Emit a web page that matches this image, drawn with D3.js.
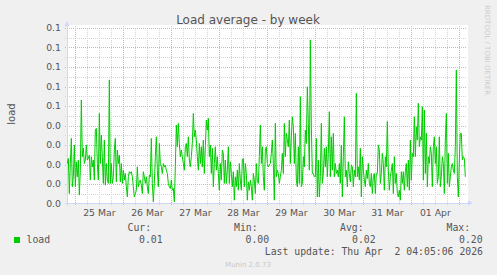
<!DOCTYPE html>
<html>
<head>
<meta charset="utf-8">
<script src="https://cdnjs.cloudflare.com/ajax/libs/d3/7.8.5/d3.min.js"></script>
<style>
  body { margin: 0; background: #f0f0f0; }
  svg { display: block; }
  text { font-family: "DejaVu Sans", sans-serif; fill: #555; }
  .mono { font-family: "DejaVu Sans Mono", monospace; }
</style>
</head>
<body>
<div class="chart"></div>
<script>
// load average, one sample every 30 minutes
var firstSample = Date.UTC(2026, 2, 24, 20, 0);
var stepMinutes = 30;
var viewStart = Date.UTC(2026, 2, 24, 20, 5);
var viewEnd = Date.UTC(2026, 3, 2, 4, 5);

var load = [
  0.0205, 0.0231, 0.0051, 0.0205, 0.0334, 0.0086, 0.0137, 0.0300, 0.0086, 0.0214,
  0.0137, 0.0223, 0.0043, 0.0171, 0.0531, 0.0240, 0.0283, 0.0205, 0.0223, 0.0300,
  0.0223, 0.0231, 0.0248, 0.0120, 0.0240, 0.0188, 0.0223, 0.0120, 0.0377, 0.0385,
  0.0205, 0.0120, 0.0462, 0.0205, 0.0351, 0.0240, 0.0103, 0.0325, 0.0094, 0.0205,
  0.0120, 0.0103, 0.0634, 0.0103, 0.0205, 0.0103, 0.0137, 0.0274, 0.0334, 0.0111,
  0.0274, 0.0205, 0.0248, 0.0111, 0.0205, 0.0103, 0.0171, 0.0120, 0.0154, 0.0086,
  0.0034, 0.0137, 0.0163, 0.0154, 0.0163, 0.0137, 0.0086,
  0.0034, 0.0051, 0.0068, 0.0188, 0.0086, 0.0111, 0.0120, 0.0094, 0.0051, 0.0163,
  0.0137, 0.0103, 0.0137, 0.0086, 0.0051, 0.0146, 0.0137, 0.0334, 0.0103, 0.0009,
  0.0103, 0.0240, 0.0342, 0.0171, 0.0086, 0.0308, 0.0205, 0.0188, 0.0154, 0.0205,
  0.0188, 0.0197, 0.0171, 0.0154, 0.0103, 0.0086, 0.0077, 0.0120, 0.0068, 0.0077,
  0.0009, 0.0188, 0.0402, 0.0291, 0.0411, 0.0308, 0.0240, 0.0274, 0.0240, 0.0205,
  0.0171, 0.0291, 0.0308, 0.0240, 0.0342, 0.0223, 0.0188, 0.0240, 0.0308, 0.0462,
  0.0342, 0.0377, 0.0325, 0.0240, 0.0171, 0.0308, 0.0205, 0.0291,
  0.0188, 0.0325, 0.0154, 0.0291, 0.0428, 0.0377, 0.0437, 0.0240, 0.0300, 0.0154,
  0.0283, 0.0086, 0.0205, 0.0291, 0.0171, 0.0240, 0.0154, 0.0068, 0.0205, 0.0120,
  0.0274, 0.0257, 0.0103, 0.0223, 0.0103, 0.0171, 0.0291, 0.0103, 0.0214, 0.0154,
  0.0086, 0.0163, 0.0017, 0.0137, 0.0086, 0.0171, 0.0068, 0.0205, 0.0120, 0.0068,
  0.0223, 0.0231, 0.0086, 0.0205, 0.0154, 0.0017, 0.0111, 0.0068, 0.0120, 0.0086,
  0.0017, 0.0154, 0.0120, 0.0051, 0.0205, 0.0111, 0.0103, 0.0240, 0.0402, 0.0205,
  0.0291, 0.0137, 0.0068, 0.0274, 0.0291, 0.0205, 0.0188, 0.0197,
  0.0205, 0.0257, 0.0325, 0.0205, 0.0017, 0.0411, 0.0137, 0.0171, 0.0154, 0.0103,
  0.0137, 0.0171, 0.0257, 0.0154, 0.0411, 0.0240, 0.0360, 0.0325, 0.0291, 0.0428,
  0.0205, 0.0342, 0.0445, 0.0394, 0.0205, 0.0360, 0.0120, 0.0086, 0.0291, 0.0103,
  0.0548, 0.0086, 0.0103, 0.0240, 0.0188, 0.0377, 0.0308, 0.0599, 0.0411, 0.0171,
  0.0839, 0.0394, 0.0154, 0.0154, 0.0137, 0.0137, 0.0334, 0.0034, 0.0223, 0.0034,
  0.0137, 0.0411, 0.0103, 0.0154, 0.0283, 0.0188, 0.0291, 0.0137, 0.0257, 0.0471,
  0.0137, 0.0342, 0.0171, 0.0360, 0.0137, 0.0205, 0.0154, 0.0171,
  0.0137, 0.0205, 0.0103, 0.0300, 0.0034, 0.0240, 0.0445, 0.0137, 0.0171, 0.0086,
  0.0214, 0.0154, 0.0111, 0.0197, 0.0188, 0.0086, 0.0171, 0.0137, 0.0565, 0.0137,
  0.0188, 0.0120, 0.0283, 0.0034, 0.0240, 0.0171, 0.0120, 0.0086, 0.0171, 0.0128,
  0.0205, 0.0103, 0.0086, 0.0154, 0.0051, 0.0137, 0.0154, 0.0051, 0.0154, 0.0154,
  0.0300, 0.0274, 0.0103, 0.0154, 0.0257, 0.0205, 0.0068, 0.0240, 0.0188, 0.0420,
  0.0171, 0.0068, 0.0137, 0.0171, 0.0205, 0.0051, 0.0240, 0.0103, 0.0154, 0.0051,
  0.0034, 0.0068, 0.0017, 0.0163, 0.0103, 0.0163, 0.0068, 0.0163,
  0.0205, 0.0086, 0.0223, 0.0068, 0.0325, 0.0120, 0.0257, 0.0240, 0.0445, 0.0240,
  0.0394, 0.0325, 0.0514, 0.0291, 0.0342, 0.0325, 0.0497, 0.0120, 0.0479, 0.0154,
  0.0360, 0.0086, 0.0240, 0.0205, 0.0291, 0.0257, 0.0086, 0.0291, 0.0342, 0.0205,
  0.0291, 0.0103, 0.0137, 0.0342, 0.0086, 0.0137, 0.0240, 0.0205, 0.0051, 0.0325,
  0.0462, 0.0103, 0.0257, 0.0086, 0.0137, 0.0188, 0.0205, 0.0171, 0.0154, 0.0291,
  0.0685, 0.0137, 0.0034, 0.0223, 0.0360, 0.0360, 0.0223, 0.0240, 0.0231, 0.0137
];

var yTicks = [0, 0.01, 0.02, 0.03, 0.04, 0.05, 0.06, 0.07, 0.08, 0.09];
var yMinorTicks = [0.005, 0.015, 0.025, 0.035, 0.045, 0.055, 0.065, 0.075, 0.085];
var dayTicks = d3.range(0, 9).map(d => Date.UTC(2026, 2, 25 + d));
var labelDays = d3.range(0, 8).map(d => Date.UTC(2026, 2, 25 + d, 12));

var legendHeads = ["Cur:", "Min:", "Avg:", "Max:"];
var legendValues = ["0.01", "0.00", "0.02", "0.20"];
var seriesName = "load";
var lastUpdate = "Last update: Thu Apr  2 04:05:06 2026";

var svgWidth = 497, svgHeight = 275;
var plot = { left: 67, right: 467, top: 28, bottom: 203.5 };

var svg = d3.select(".chart").append("svg")
    .attr("width", svgWidth)
    .attr("height", svgHeight);

svg.append("rect").attr("width", svgWidth).attr("height", svgHeight).attr("fill", "#f0f0f0");
svg.append("rect")
    .attr("x", plot.left).attr("y", plot.top - 3)
    .attr("width", plot.right - plot.left + 1).attr("height", plot.bottom - plot.top + 3)
    .attr("fill", "#ffffff");

var x = d3.scaleUtc().domain([viewStart, viewEnd]).range([plot.left + 0.5, plot.right + 0.5]);
var y = d3.scaleLinear().domain([0, 0.09]).range([plot.bottom, plot.top]);

var crisp = v => Math.round(v) + 0.5;

// minor grid, 6 hours / 0.005
var minorTimes = d3.utcHour.every(6).range(new Date(viewStart), new Date(viewEnd))
    .filter(d => d.getUTCHours() !== 0);
var grid = svg.append("g").attr("stroke-dasharray", "1,1").attr("shape-rendering", "crispEdges");
grid.selectAll(".vmin").data(minorTimes).enter().append("line")
    .attr("x1", d => crisp(x(d))).attr("x2", d => crisp(x(d)))
    .attr("y1", plot.top).attr("y2", plot.bottom + 2.5)
    .attr("stroke", "#d4d4d4");
grid.selectAll(".hmin").data(yMinorTicks).enter().append("line")
    .attr("x1", plot.left - 2).attr("x2", plot.right)
    .attr("y1", d => crisp(y(d))).attr("y2", d => crisp(y(d)))
    .attr("stroke", "#d4d4d4");
grid.selectAll(".vmaj").data(dayTicks).enter().append("line")
    .attr("x1", d => crisp(x(d))).attr("x2", d => crisp(x(d)))
    .attr("y1", plot.top - 2).attr("y2", plot.bottom + 2.5)
    .attr("stroke", "#eea8a8");
grid.selectAll(".hmaj").data(yTicks.slice(1)).enter().append("line")
    .attr("x1", plot.left - 2).attr("x2", plot.right)
    .attr("y1", d => crisp(y(d))).attr("y2", d => crisp(y(d)))
    .attr("stroke", "#eea8a8");

// axes
var axisColor = "#cfd6f8";
svg.append("line")
    .attr("x1", plot.left - 2).attr("x2", plot.right + 2)
    .attr("y1", crisp(plot.bottom - 0.5)).attr("y2", crisp(plot.bottom - 0.5))
    .attr("stroke", axisColor).attr("shape-rendering", "crispEdges");
svg.append("line")
    .attr("x1", crisp(plot.left - 0.5)).attr("x2", crisp(plot.left - 0.5))
    .attr("y1", plot.bottom + 2).attr("y2", plot.top - 3)
    .attr("stroke", axisColor).attr("shape-rendering", "crispEdges");
svg.append("path")
    .attr("d", `M${plot.left - 2.5},26 L${plot.left + 2.5},26 L${plot.left},21 Z`)
    .attr("fill", axisColor);
svg.append("path")
    .attr("d", `M468,${plot.bottom - 3} L468,${plot.bottom + 2} L473,${plot.bottom - 0.5} Z`)
    .attr("fill", axisColor);

// tick labels
var fmtY = d3.format(".1f");
svg.selectAll(".ylab").data(yTicks).enter().append("text")
    .attr("x", 61).attr("y", d => y(d) + 3.4)
    .attr("text-anchor", "end").attr("font-size", "9.3px")
    .text(d => fmtY(d));

var fmtX = d3.utcFormat("%d %b");
svg.selectAll(".xlab").data(labelDays).enter().append("text")
    .attr("x", d => x(d)).attr("y", 216)
    .attr("text-anchor", "middle").attr("font-size", "9.3px")
    .text(d => fmtX(new Date(d)));

// series
var line = d3.line()
    .x((d, i) => x(firstSample + i * stepMinutes * 60000))
    .y(d => y(d));
svg.append("path")
    .datum(load)
    .attr("fill", "none")
    .attr("stroke", "#00cc00")
    .attr("stroke-width", 1)
    .attr("d", line);

// titles
svg.append("text")
    .attr("x", 248).attr("y", 24)
    .attr("text-anchor", "middle").attr("font-size", "12px")
    .text("Load average - by week");

svg.append("text")
    .attr("transform", "translate(14.5,114) rotate(-90)")
    .attr("text-anchor", "middle").attr("font-size", "10px")
    .text(seriesName);

svg.append("text")
    .attr("transform", "translate(485,5) rotate(90)")
    .attr("font-size", "7px").style("fill", "#cccccc")
    .text("RRDTOOL / TOBI OETIKER");

// legend
var headX = [127.5, 234, 340, 446.5];
var valueX = [139, 245.5, 352, 459];
svg.selectAll(".lhead").data(legendHeads).enter().append("text")
    .attr("class", "mono").attr("x", (d, i) => headX[i]).attr("y", 231)
    .attr("font-size", "9.8px").text(d => d);
svg.selectAll(".lval").data(legendValues).enter().append("text")
    .attr("class", "mono").attr("x", (d, i) => valueX[i]).attr("y", 243)
    .attr("font-size", "9.8px").text(d => d);

svg.append("rect")
    .attr("x", 14).attr("y", 237).attr("width", 6).attr("height", 6)
    .attr("fill", "#00cc00");
svg.append("text")
    .attr("class", "mono").attr("x", 26.5).attr("y", 243)
    .attr("font-size", "9.8px").text(seriesName);

svg.append("text")
    .attr("class", "mono").attr("x", 483).attr("y", 255)
    .attr("text-anchor", "end").attr("font-size", "9.8px")
    .attr("xml:space", "preserve").style("white-space", "pre")
    .text(lastUpdate);

svg.append("text")
    .attr("x", 248).attr("y", 267)
    .attr("text-anchor", "middle").attr("font-size", "7px").style("fill", "#c8c8c8")
    .text("Munin 2.0.73");
</script>
</body>
</html>
